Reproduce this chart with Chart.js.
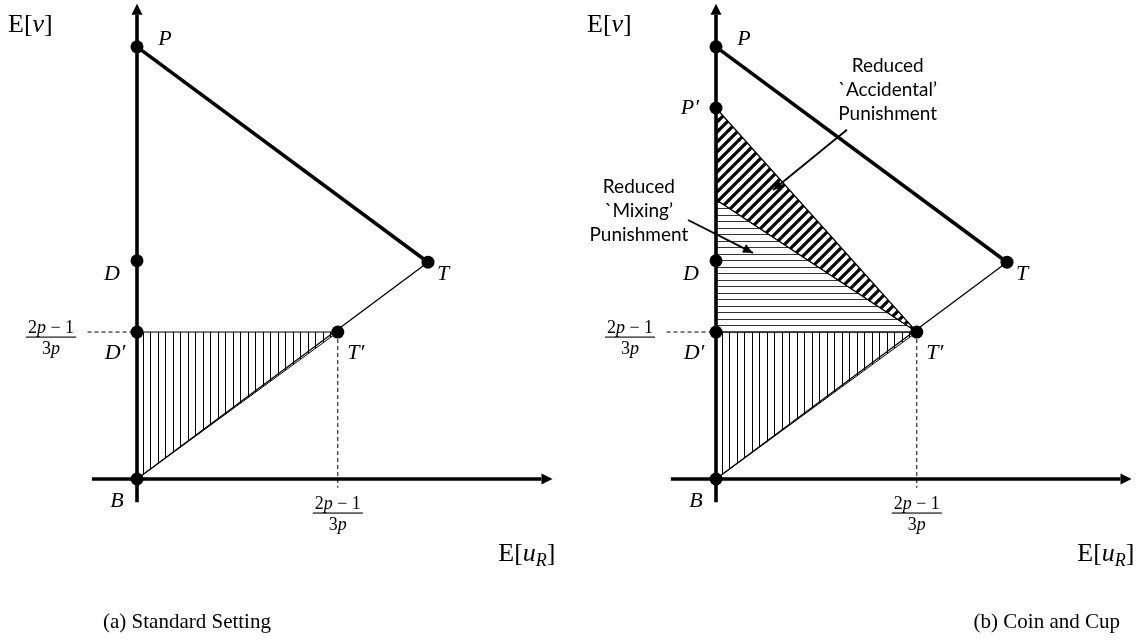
<!DOCTYPE html>
<html>
<head>
<meta charset="utf-8">
<script src="https://cdn.jsdelivr.net/npm/chart.js@4.4.1/dist/chart.umd.min.js"></script>
<style>
  html, body { margin: 0; padding: 0; background: #fff; }
  #wrap { position: relative; width: 1137px; height: 644px; overflow: hidden; }
  .panel { position: absolute; top: 0; width: 558px; height: 644px; }
  #panelA { left: 0; }
  #panelB { left: 579px; }
  .cap { position: absolute; top: 609px; line-height: 24px; font-family: "Liberation Serif", serif; font-size: 21px; color: #000; white-space: nowrap; }
</style>
</head>
<body>
<div id="wrap">
  <div class="panel" id="panelA"><canvas id="chartA"></canvas></div>
  <div class="panel" id="panelB"><canvas id="chartB"></canvas></div>
  <div class="cap" id="capA" style="left:103px"></div>
  <div class="cap" id="capB" style="right:17px"></div>
</div>
<script>
// ---- data (units: T sits at x = 1) ----
const vertexNames = ["B", "D", "D′", "T′", "T", "P", "P′"];
const vertexX = [0, 0, 0, 0.69, 1.0, 0, 0];
const vertexY = [0, 0.75, 0.505, 0.505, 0.745, 1.485, 1.275];
const mixingTopY = 0.96;            // where the two shaded regions meet the axis (panel b)
const axisXRange = [-0.155, 1.39];
const axisYRange = [-0.08, 1.595];
const dashLeftX = -0.17;
const dashBottomY = -0.03;
const fracNum = ["2", "p", " − 1"];
const fracDen = ["3", "p"];
const yTitleParts = ["E[", "v", "]"];
const xTitleParts = ["E[", "u", "R", "]"];
const captions = ["(a) Standard Setting", "(b) Coin and Cup"];
const noteAccidental = ["Reduced", "`Accidental’", "Punishment"];
const noteMixing = ["Reduced", "`Mixing’", "Punishment"];
const noteAccidentalAt = [0.59, 1.40];
const noteMixingAt = [-0.265, 0.983];
const arrowAccidental = [[0.45, 1.20], [0.196, 0.993]];
const arrowMixing = [[-0.096, 0.89], [0.127, 0.777]];

// pixel offsets of the vertex letters from their dots
const labelOffset = { "B": [-20, 22], "D": [-25, 13], "D′": [-22, 21], "T′": [18, 21], "T": [15, 12], "P": [28, -8], "P′": [-26, 0] };

const ROMAN = s => `${s}px "Liberation Serif"`;
const ITAL = s => `italic ${s}px "Liberation Serif"`;

function v(name) {
  const i = vertexNames.indexOf(name);
  return { x: vertexX[i], y: vertexY[i] };
}

function makePattern(kind) {
  const c = document.createElement("canvas");
  const g = c.getContext("2d");
  if (kind === "v") {
    c.width = 15; c.height = 4;
    g.fillStyle = "#000";
    g.fillRect(0, 0, 1, 4);
    g.fillRect(8, 0, 1, 4);
  } else if (kind === "h") {
    c.width = 4; c.height = 13;
    g.fillStyle = "#333";
    g.fillRect(0, 0, 4, 1);
    g.fillRect(0, 7, 4, 1);
  } else {
    const s = 10;
    c.width = s; c.height = s;
    g.strokeStyle = "#000";
    g.lineWidth = 3.2;
    g.beginPath();
    g.moveTo(-1, s + 1); g.lineTo(s + 1, -1);
    g.moveTo(-1, 1); g.lineTo(1, -1);
    g.moveTo(s - 1, s + 1); g.lineTo(s + 1, s - 1);
    g.stroke();
  }
  return c.getContext("2d").createPattern(c, "repeat");
}

function drawRuns(ctx, runs, x, y, align) {
  let w = 0;
  runs.forEach(r => { ctx.font = r[1]; w += ctx.measureText(r[0]).width; });
  let cx = align === "center" ? x - w / 2 : align === "right" ? x - w : x;
  ctx.textAlign = "left";
  ctx.textBaseline = "alphabetic";
  runs.forEach(r => {
    ctx.font = r[1];
    ctx.fillText(r[0], cx, y + (r[2] || 0));
    cx += ctx.measureText(r[0]).width;
  });
  return w;
}

function drawFraction(ctx, cx, lineY) {
  const num = [[fracNum[0], ROMAN(18)], [fracNum[1], ITAL(18)], [fracNum[2], ROMAN(18)]];
  const den = [[fracDen[0], ROMAN(18)], [fracDen[1], ITAL(18)]];
  const w = drawRuns(ctx, num, cx, lineY - 4, "center");
  drawRuns(ctx, den, cx, lineY + 17, "center");
  ctx.fillRect(cx - w / 2 - 2, lineY - 0.5, w + 4, 1.1);
}

const overlay = {
  id: "overlay",
  afterDatasetsDraw(chart, args, opts) {
    const ctx = chart.ctx;
    const X = val => chart.scales.x.getPixelForValue(val);
    const Y = val => chart.scales.y.getPixelForValue(val);
    ctx.save();
    ctx.fillStyle = "#000";

    // arrow heads
    chart.data.datasets.forEach((ds, i) => {
      if (!ds.arrowHead) return;
      const pts = chart.getDatasetMeta(i).data;
      const a = pts[pts.length - 2], b = pts[pts.length - 1];
      const dx = b.x - a.x, dy = b.y - a.y, L = Math.hypot(dx, dy);
      const ux = dx / L, uy = dy / L;
      const { len, half, extend } = ds.arrowHead;
      const tx = b.x + (extend ? ux * len : 0), ty = b.y + (extend ? uy * len : 0);
      const bx = tx - ux * len, by = ty - uy * len;
      ctx.beginPath();
      ctx.moveTo(tx, ty);
      ctx.lineTo(bx - uy * half, by + ux * half);
      ctx.lineTo(bx + uy * half, by - ux * half);
      ctx.closePath();
      ctx.fill();
    });

    // vertex letters
    opts.labels.forEach(name => {
      const p = v(name);
      const o = labelOffset[name];
      ctx.font = ITAL(22);
      ctx.textAlign = "center";
      ctx.textBaseline = "middle";
      ctx.fillText(name, X(p.x) + o[0], Y(p.y) + o[1]);
    });

    // axis titles
    const ox = X(0), oy = Y(0);
    drawRuns(ctx, [[yTitleParts[0], ROMAN(26)], [yTitleParts[1], ITAL(26)], [yTitleParts[2], ROMAN(26)]],
      ox - 129, Y(axisYRange[1]) - 10 + 27, "left");
    drawRuns(ctx, [[xTitleParts[0], ROMAN(26)], [xTitleParts[1], ITAL(26)], [xTitleParts[2], ITAL(18), 5], [xTitleParts[3], ROMAN(26)]],
      X(axisXRange[1]) + 14, oy + 82, "right");

    // fraction tick labels
    const tp = v("T′");
    drawFraction(ctx, ox - 86, Y(tp.y) + 5);
    drawFraction(ctx, X(tp.x), oy + 34);

    // annotation notes
    if (opts.notes) {
      ctx.font = '19px Lato';
      ctx.textAlign = "center";
      ctx.textBaseline = "alphabetic";
      opts.notes.forEach(n => {
        n.lines.forEach((t, k) => ctx.fillText(t, X(n.at[0]), Y(n.at[1]) + k * 24));
      });
    }
    ctx.restore();
  }
};

function line(data, width, extra) {
  return Object.assign({
    data, showLine: true, borderColor: "#000", borderWidth: width,
    pointRadius: 0, fill: false, clip: false, order: 2
  }, extra || {});
}

function makeDatasets(coin) {
  const B = v("B"), Dp = v("D′"), Tp = v("T′"), T = v("T"), P = v("P");
  const ds = [];
  ds.push(line([B, Dp, Tp, B], 1, { fill: "shape", backgroundColor: makePattern("v"), order: 6 }));
  if (coin) {
    const Pp = v("P′"), M = { x: 0, y: mixingTopY };
    ds.push(line([M, Tp, Dp, M], 1, { fill: "shape", backgroundColor: makePattern("h"), order: 5 }));
    ds.push(line([Pp, Tp, M, Pp], 1.2, { fill: "shape", backgroundColor: makePattern("d"), order: 4 }));
    ds.push(line(arrowAccidental.map(p => ({ x: p[0], y: p[1] })), 1.8, { arrowHead: { len: 10, half: 4.5, extend: false } }));
    ds.push(line(arrowMixing.map(p => ({ x: p[0], y: p[1] })), 1.8, { arrowHead: { len: 10, half: 4.5, extend: false } }));
  }
  ds.push(line([B, T], 1.3));
  ds.push(line([P, T], 3.6));
  ds.push(line([{ x: dashLeftX, y: Dp.y }, Dp], 1, { borderDash: [4, 3] }));
  ds.push(line([Tp, { x: Tp.x, y: dashBottomY }], 1, { borderDash: [4, 3] }));
  ds.push(line([{ x: 0, y: axisYRange[0] }, { x: 0, y: axisYRange[1] }], 3.6, { arrowHead: { len: 11, half: 5.5, extend: true }, order: 1 }));
  ds.push(line([{ x: axisXRange[0], y: 0 }, { x: axisXRange[1], y: 0 }], 3.6, { arrowHead: { len: 11, half: 5.5, extend: true }, order: 1 }));
  const names = coin ? ["B", "D", "D′", "T′", "T", "P", "P′"] : ["B", "D", "D′", "T′", "T", "P"];
  ds.push({
    data: names.map(v), showLine: false, pointRadius: 6.5, pointHoverRadius: 6.5,
    pointBackgroundColor: "#000", pointBorderWidth: 0, clip: false, order: 0
  });
  return ds;
}

function makeChart(canvasId, coin) {
  const ctx = document.getElementById(canvasId).getContext("2d");
  const unit = 291;
  return new Chart(ctx, {
    type: "line",
    data: { datasets: makeDatasets(coin) },
    options: {
      responsive: true,
      maintainAspectRatio: false,
      animation: false,
      events: [],
      layout: { padding: 0, autoPadding: false },
      plugins: {
        legend: { display: false },
        tooltip: { enabled: false },
        overlay: {
          labels: coin ? ["B", "D", "D′", "T′", "T", "P", "P′"] : ["B", "D", "D′", "T′", "T", "P"],
          notes: coin ? [{ lines: noteAccidental, at: noteAccidentalAt }, { lines: noteMixing, at: noteMixingAt }] : null
        }
      },
      scales: {
        x: { type: "linear", display: false, min: -137 / unit, max: (558 - 137) / unit },
        y: { type: "linear", display: false, min: -(644 - 479) / unit, max: 479 / unit }
      }
    },
    plugins: [overlay]
  });
}

document.getElementById("capA").textContent = captions[0];
document.getElementById("capB").textContent = captions[1];
makeChart("chartA", false);
makeChart("chartB", true);
</script>
</body>
</html>
